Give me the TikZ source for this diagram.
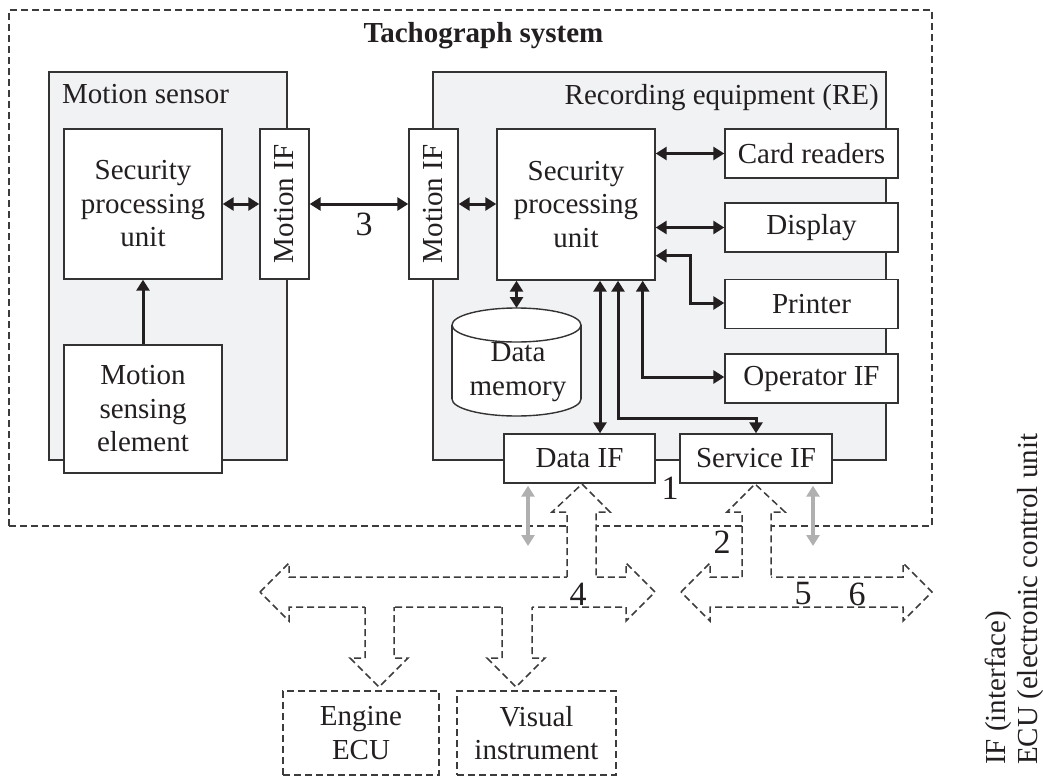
\documentclass[tikz,border=0pt]{standalone}
\usepackage{fontspec}
\usepackage{graphicx}
\setmainfont{Liberation Serif}
\usetikzlibrary{arrows.meta}
\definecolor{boxline}{HTML}{333333}
\definecolor{panel}{HTML}{F1F2F4}
\definecolor{ink}{HTML}{231F20}
\definecolor{dashc}{HTML}{3C3C3C}
\definecolor{graya}{HTML}{B0B0B0}
\begin{document}
\begin{tikzpicture}[x=1pt,y=-1pt,
  txt/.style={font=\fontsize{29}{33.5}\selectfont, text=ink},
  box/.style={draw=boxline, line width=1.4pt, fill=white, inner sep=0pt, align=center, txt},
  panelbox/.style={draw=boxline, line width=1.4pt, fill=panel, inner sep=0pt},
  dbox/.style={draw=dashc, line width=1.5pt, dash pattern=on 7pt off 4pt, fill=white, inner sep=0pt, align=center, txt},
  dline/.style={draw=dashc, line width=1.5pt, dash pattern=on 7pt off 4pt},
  tip/.tip={Triangle[length=11pt,width=13pt]},
  arr/.style={draw=ink, line width=3pt, tip-tip},
  arrone/.style={draw=ink, line width=3pt, -tip},
  grayarr/.style={draw=graya, line width=3.2pt, tip-tip},
  num/.style={font=\fontsize{34}{34}\selectfont, text=ink, inner sep=0pt},
]
\useasboundingbox (0,0) rectangle (1043,776);

% outer system box
\node[dline, minimum width=923pt, minimum height=516pt, inner sep=0pt] (sys) at (470.5,268) {};
\node[txt, font=\fontsize{29}{33.5}\selectfont\bfseries, anchor=base, inner sep=0pt] (title) at (483.5,42) {Tachograph system};

% panels
\node[panelbox, minimum width=238pt, minimum height=388pt] (ms) at (168,266) {};
\node[panelbox, minimum width=453pt, minimum height=388pt] (re) at (659.5,266) {};
\node[txt, anchor=base west, inner sep=0pt] (mslbl) at (62,103) {Motion sensor};
\node[txt, anchor=base east, inner sep=0pt] (relbl) at (879,104) {Recording equipment (RE)};

% motion sensor internals
\node[box, minimum width=158pt, minimum height=150pt] (spu1) at (143,204) {Security\\processing\\unit};
\node[box, minimum width=49pt, minimum height=150pt] (mif1) at (284.5,204) {\rotatebox{90}{Motion IF}};
\node[box, minimum width=158pt, minimum height=128pt] (mse) at (143,409) {Motion\\sensing\\element};

% RE internals
\node[box, minimum width=49pt, minimum height=150pt] (mif2) at (433.5,204) {\rotatebox{90}{Motion IF}};
\node[box, minimum width=158pt, minimum height=151pt] (spu2) at (576,204.5) {Security\\processing\\unit};
\node[box, minimum width=173pt, minimum height=49pt] (card) at (811.5,153.5) {Card readers};
\node[box, minimum width=173pt, minimum height=49pt] (disp) at (811.5,227.5) {Display};
\node[box, minimum width=173pt, minimum height=49pt] (prn) at (811.5,304) {Printer};
\node[box, minimum width=173pt, minimum height=49pt] (opif) at (811.5,378.5) {Operator IF};
\node[box, minimum width=151pt, minimum height=49pt] (dif) at (579.5,458.5) {Data IF};
\node[box, minimum width=152pt, minimum height=49pt] (sif) at (756,458.5) {Service IF};

% data memory cylinder
\draw[boxline, line width=1.4pt, fill=white] (516.5,399) ellipse [x radius=64.5pt, y radius=17pt];
\fill[white] (452,325) rectangle (581,399);
\draw[boxline, line width=1.4pt] (452,325) -- (452,399) (581,325) -- (581,399);
\draw[boxline, line width=1.4pt, fill=white] (516.5,325) ellipse [x radius=64.5pt, y radius=17pt];
\coordinate (dmtop) at (516.5,308);
\node[txt, align=center, inner sep=0pt] (dm) at (518,372) {Data\\memory};

% black connectors
\draw[arrone] (mse.north) -- (spu1.south);
\draw[arr] (spu1.east) -- (mif1.west);
\draw[arr] (mif1.east) -- (mif2.west);
\draw[arr] (mif2.east) -- (mif2.east -| spu2.west);
\draw[arr] (spu2.east |- card.west) -- (card.west);
\draw[arr] (spu2.east |- disp.west) -- (disp.west);
\draw[arr] ([yshift=25pt]spu2.south east) -- ++(35,0) |- ([yshift=1pt]prn.west);
\draw[arr] ([xshift=-13pt]spu2.south east) |- ([yshift=1.5pt]opif.west);
\draw[arr] ([xshift=-59.5pt]spu2.south) -- (dmtop);
\draw[arr] ([xshift=24pt]spu2.south) -- ([xshift=20.5pt]dif.north);
\draw[arr] ([xshift=42pt]spu2.south) -- ++(0,138) -| (sif.north);

% buses
\draw[dline, fill=white] (260,592) -- (289,563) -- (289,577) -- (626,577) -- (626,563) -- (655,592) -- (626,621) -- (626,607) -- (289,607) -- (289,621) -- cycle;
\draw[dline, fill=white] (681,592) -- (710,563) -- (710,577) -- (903,577) -- (903,563) -- (932,592) -- (903,621) -- (903,607) -- (710,607) -- (710,621) -- cycle;

% up arrows
\fill[white] (567,579) -- (567,512) -- (552,512) -- (582,484) -- (610,512) -- (596,512) -- (596,579) -- cycle;
\draw[dline] (567,577) -- (567,512) -- (552,512) -- (582,484) -- (610,512) -- (596,512) -- (596,577);
\fill[white] (742,579) -- (742,512) -- (727,512) -- (755,484) -- (785,512) -- (771,512) -- (771,579) -- cycle;
\draw[dline] (742,577) -- (742,512) -- (727,512) -- (755,484) -- (785,512) -- (771,512) -- (771,577);

% down arrows
\fill[white] (365,605) -- (365,658) -- (350,658) -- (379,687) -- (408,658) -- (394,658) -- (394,605) -- cycle;
\draw[dline] (365,607) -- (365,658) -- (350,658) -- (379,687) -- (408,658) -- (394,658) -- (394,607);
\fill[white] (502,605) -- (502,658) -- (487,658) -- (516,687) -- (545,658) -- (532,658) -- (532,605) -- cycle;
\draw[dline] (502,607) -- (502,658) -- (487,658) -- (516,687) -- (545,658) -- (532,658) -- (532,607);

% gray arrows
\coordinate (g1) at (528,546);
\coordinate (g2) at (813,546);
\draw[grayarr, shorten <=2pt] (dif.south -| g1) -- (g1);
\draw[grayarr, shorten <=2pt] (sif.south -| g2) -- (g2);

% labels
\node[num] (n3) at (364,224) {3};
\node[num] (n1) at (670,488) {1};
\node[num] (n2) at (722,542) {2};
\node[num] (n4) at (578,594) {4};
\node[num] (n5) at (803,594) {5};
\node[num] (n6) at (857,594) {6};

% external units
\node[dbox, minimum width=156pt, minimum height=84pt] (eng) at (361,733) {Engine\\ECU};
\node[dbox, minimum width=159pt, minimum height=84pt] (vis) at (536.5,733) {Visual\\instrument};

% legend
\node[txt, rotate=90, anchor=base west, inner sep=0pt] (lg1) at (1005,765) {IF (interface)};
\node[txt, rotate=90, anchor=base west, inner sep=0pt] (lg2) at (1037,765) {ECU (electronic control unit};
\end{tikzpicture}
\end{document}
